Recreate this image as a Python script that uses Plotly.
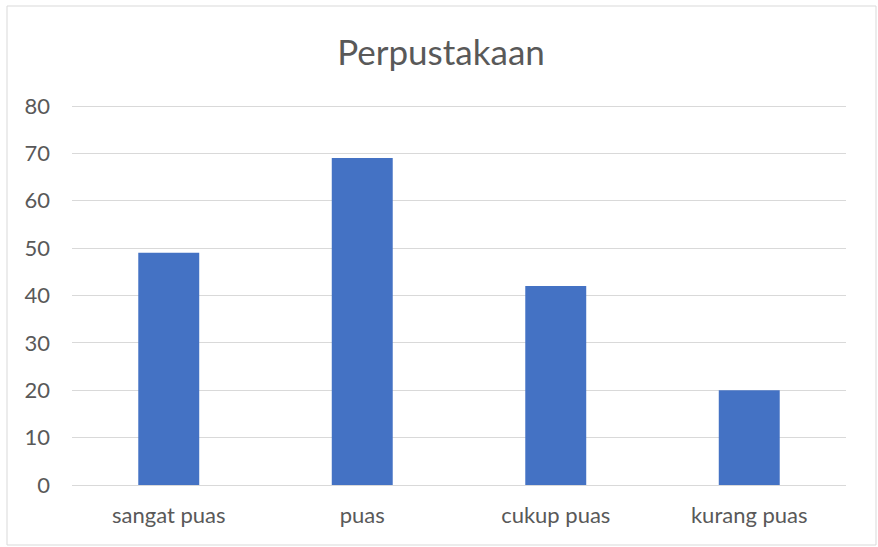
import plotly.graph_objects as go

categories = ["sangat puas", "puas", "cukup puas", "kurang puas"]
values = [49, 69, 42, 20]
y_ticks = [0, 10, 20, 30, 40, 50, 60, 70, 80]

W, H = 878, 547
L, R, T, B = 72, 32, 100, 62
pw, ph = W - L - R, H - T - B
y_top = 80 * ph / 379.0  # 80 lands at y=106 px

fig = go.Figure(go.Bar(x=categories, y=values, marker=dict(color="#4472C4", line=dict(width=0)), width=0.315))

fig.update_layout(
    width=W, height=H,
    margin=dict(l=L, r=R, t=T, b=B),
    paper_bgcolor="white", plot_bgcolor="white",
    font=dict(family="Lato, 'Open Sans', sans-serif", color="#595959", size=22),
    title=dict(text="Perpustakaan", x=441 / W, xanchor="center", y=1 - 53 / H, yanchor="middle",
               font=dict(size=35, color="#595959")),
    showlegend=False,
)
fig.update_xaxes(showgrid=False, showline=False, ticks="", tickfont=dict(size=22), ticklabelstandoff=15)
fig.update_yaxes(range=[0, y_top], tickvals=y_ticks, showgrid=True, gridcolor="#D9D9D9", gridwidth=1,
                 zeroline=True, zerolinecolor="#D9D9D9", zerolinewidth=1, ticks="", ticklabelstandoff=21,
                 tickfont=dict(size=22))
fig.add_shape(type="rect", xref="paper", yref="paper",
              x0=(7 - L) / pw, x1=(876 - L) / pw, y0=(H - B - 545) / ph, y1=(H - B - 6) / ph,
              line=dict(color="#D9D9D9", width=1), fillcolor="rgba(0,0,0,0)", layer="below")
fig.write_html("out.html", config={"displayModeBar": False},
               post_script="document.body.style.margin='0';document.body.style.overflow='hidden';")
